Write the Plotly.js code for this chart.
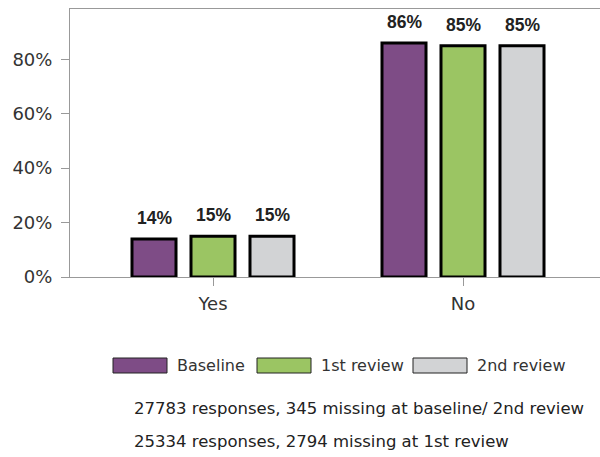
<!DOCTYPE html>
<html>
<head>
<meta charset="utf-8">
<script src="https://cdn.plot.ly/plotly-3.0.1.min.js"></script>
<style>html,body{margin:0;padding:0;background:#fff;}#chart{width:600px;height:457px;}</style>
</head>
<body>
<div id="chart"></div>
<script>
var categories = ["Yes", "No"];
var seriesNames = ["Baseline", "1st review", "2nd review"];
var baseline = [14, 86];
var review1 = [15, 85];
var review2 = [15, 85];
var seriesColors = ["#7e4c86", "#9bc563", "#d2d3d5"];
var yTickValues = [0, 20, 40, 60, 80];
var yTickLabels = ["0%", "20%", "40%", "60%", "80%"];
var notes = ["27783 responses, 345 missing at baseline/ 2nd review", "25334 responses, 2794 missing at 1st review"];

var W = 600, H = 457, ML = 70, MR = 0, MT = 9, MB = 180;
var PW = W - ML - MR, PH = H - MT - MB;
function px2x(px) { return (px - ML) / PW; }
function py2y(py) { return (H - MB - py) / PH; }

var values = [baseline, review1, review2];
var traces = values.map(function (v, i) {
  return {
    type: "bar",
    name: seriesNames[i],
    x: categories,
    y: v,
    marker: { color: seriesColors[i], line: { color: "#000", width: 3 } },
    showlegend: false,
    hoverinfo: "none"
  };
});

var shapes = [];
var annotations = [];
// data labels above each bar
var slotPx = 59;
values.forEach(function (v, i) {
  v.forEach(function (d, j) {
    annotations.push({
      xref: "x", yref: "y", x: categories[j], y: d,
      xshift: (i - 1) * slotPx, yshift: 9,
      xanchor: "center", yanchor: "bottom", showarrow: false,
      text: d + "%",
      font: { family: "Liberation Sans, Arial, sans-serif", size: 17.5, color: "#222", weight: "bold" }
    });
  });
});
var legendX = [113, 257, 413];
seriesNames.forEach(function (n, i) {
  shapes.push({
    type: "rect", xref: "paper", yref: "paper",
    x0: px2x(legendX[i]), x1: px2x(legendX[i] + 54),
    y0: py2y(373), y1: py2y(358),
    fillcolor: seriesColors[i], line: { color: "#222", width: 1 }
  });
  annotations.push({
    xref: "paper", yref: "paper", x: px2x(legendX[i] + 62), y: py2y(365.5),
    xanchor: "left", yanchor: "middle", showarrow: false, text: n,
    font: { family: "DejaVu Sans, sans-serif", size: 16, color: "#333" }
  });
});
notes.forEach(function (t, i) {
  annotations.push({
    xref: "paper", yref: "paper", x: px2x(132), y: py2y(409 + i * 33),
    xanchor: "left", yanchor: "middle", showarrow: false, text: t,
    font: { family: "DejaVu Sans, sans-serif", size: 16.5, color: "#222" }
  });
});

var layout = {
  width: W, height: H,
  margin: { l: ML, r: MR, t: MT, b: MB, pad: 0 },
  paper_bgcolor: "#fff", plot_bgcolor: "#fff",
  barmode: "group", bargap: 0.292, bargroupgap: 0.254,
  showlegend: false,
  font: { family: "DejaVu Sans, sans-serif", color: "#333" },
  xaxis: {
    type: "category", range: [-0.572, 1.548],
    showline: true, linecolor: "#999", linewidth: 1, mirror: true,
    ticks: "outside", ticklen: 8, tickcolor: "#999", ticklabelstandoff: 2,
    tickfont: { family: "DejaVu Sans, sans-serif", size: 18, color: "#333" },
    showgrid: false, zeroline: false, fixedrange: true
  },
  yaxis: {
    range: [0, 98.5],
    tickvals: yTickValues, ticktext: yTickLabels,
    showline: true, linecolor: "#999", linewidth: 1,
    ticks: "outside", ticklen: 8, tickcolor: "#999", ticklabelstandoff: 5,
    tickfont: { family: "DejaVu Sans, sans-serif", size: 18, color: "#333" },
    showgrid: false, zeroline: false, fixedrange: true
  },
  shapes: shapes,
  annotations: annotations
};

Plotly.newPlot("chart", traces, layout, { displayModeBar: false, staticPlot: true });
</script>
</body>
</html>
